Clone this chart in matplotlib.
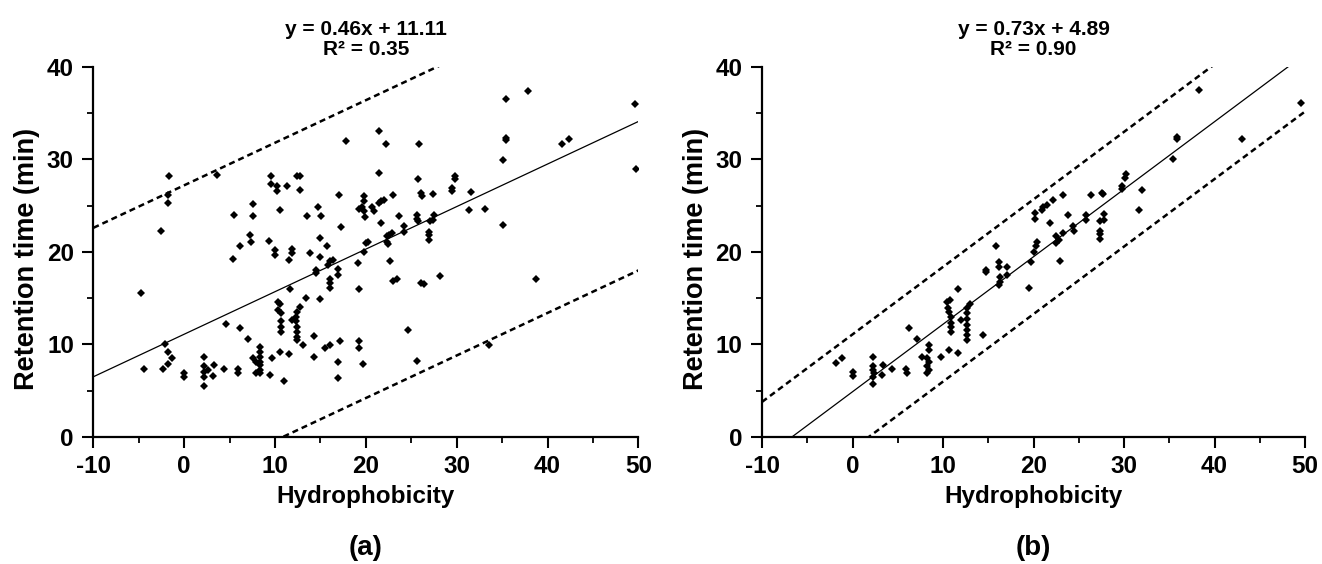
import numpy as np
import matplotlib
matplotlib.use("Agg")
from matplotlib import pyplot as plt
from matplotlib.ticker import MultipleLocator

plt.rcParams['font.family'] = ['Liberation Sans', 'DejaVu Sans']
plt.rcParams['font.weight'] = 'bold'
plt.rcParams['axes.unicode_minus'] = False

# panel (a): hydrophobicity vs retention time, all peptides
xa = [-4.8, -4.4, -2.6, -1.65, -1.8, -1.8, -2.1, -1.8, -2.3, -1.8, -1.3,
      0.0, 0.0, 2.2, 2.2, 2.2, 2.2, 2.2, 2.6, 3.3, 3.2, 3.6, 4.4, 4.6, 5.4,
      5.5, 5.9, 5.9, 6.2, 6.2, 7.0, 7.2, 7.4, 7.6, 7.6, 7.6,
      8.3, 8.3, 8.3, 8.3, 8.3, 8.3, 8.3, 7.9, 7.9,
      9.3, 9.5, 9.7, 9.6, 9.6, 10.2, 10.2, 10.0, 10.0, 10.5, 10.6,
      10.3, 10.6, 10.3, 10.7, 10.7, 10.7, 10.7, 11.0, 11.3, 11.5, 11.5,
      11.6, 11.9, 11.9, 12.4, 12.7, 12.7,
      12.7, 12.4, 12.3, 12.3, 12.4, 12.4, 12.4, 12.4, 11.9,
      13.1, 13.4, 13.5, 13.9, 14.3, 14.3, 14.5, 14.5, 14.7, 14.9, 15.0,
      15.0, 15.1, 15.5, 15.7, 15.8, 16.0, 16.0, 16.0, 16.0, 16.1, 16.4,
      16.9, 16.9, 17.0, 16.9, 16.9, 17.1, 17.3, 17.8, 19.1, 19.2, 19.2,
      19.2, 19.2,
      21.4, 22.2, 25.8, 21.4, 19.8, 19.8, 19.6, 19.8, 19.9, 20.7, 20.9,
      21.4, 21.7, 22.0, 23.0, 23.6, 21.7, 24.2, 24.2, 25.7, 25.6, 25.6,
      25.7, 26.1, 26.2, 27.4, 27.5, 27.4, 27.1, 27.0, 27.0, 27.0,
      29.5, 29.5, 29.8, 29.8, 31.6, 31.3, 33.1, 35.1, 35.4, 35.4, 35.4,
      37.9, 41.6, 42.4, 35.1, 38.7, 33.6,
      20.0, 20.2, 19.8, 22.3, 22.6, 22.9, 22.3, 22.4, 22.7, 23.0, 23.4,
      26.1, 26.4, 28.2, 24.6, 19.7, 25.6, 49.6, 49.7]
ya = [15.6, 7.3, 22.3, 28.2, 26.2, 25.3, 10.1, 9.2, 7.4, 7.9, 8.5,
      6.9, 6.5, 8.7, 7.65, 7.0, 6.5, 5.5, 7.2, 7.8, 6.6, 28.3, 7.4, 12.2, 19.2,
      24.0, 7.3, 6.9, 11.8, 20.7, 10.6, 21.8, 21.1, 25.2, 23.9, 8.5,
      9.75, 9.2, 8.7, 8.1, 7.8, 7.2, 6.9, 8.1, 6.9,
      21.2, 6.7, 8.5, 28.2, 27.4, 27.1, 26.6, 20.2, 19.7, 24.5, 9.2,
      14.6, 14.4, 13.7, 13.4, 12.5, 11.9, 11.4, 6.0, 27.1, 9.0, 19.1,
      16.0, 20.3, 19.9, 28.2, 28.2, 26.7,
      14.1, 13.5, 13.0, 12.5, 11.9, 11.4, 10.8, 10.5, 12.6,
      9.9, 15.0, 23.9, 19.9, 10.9, 8.7, 18.1, 17.7, 24.9, 14.9, 19.5,
      21.5, 23.9, 9.6, 20.6, 18.6, 19.0, 17.1, 16.6, 16.1, 9.9, 19.1,
      17.5, 18.2, 26.2, 8.1, 6.4, 10.4, 22.7, 32.0, 18.8, 16.0, 10.4,
      9.6, 24.7,
      33.1, 31.7, 31.7, 28.5, 26.0, 25.5, 24.9, 24.4, 23.8, 24.9, 24.4,
      25.3, 25.5, 25.6, 26.2, 23.9, 23.1, 22.8, 22.2, 27.9, 24.0, 23.6,
      23.3, 26.4, 26.1, 26.3, 24.0, 23.5, 23.3, 22.2, 21.8, 21.3,
      26.9, 26.6, 28.2, 27.9, 26.5, 24.5, 24.7, 29.9, 32.3, 32.1, 36.5,
      37.4, 31.7, 32.2, 22.9, 17.1, 9.9,
      21.0, 21.1, 20.0, 21.7, 21.8, 22.0, 21.1, 20.9, 19.0, 16.9, 17.1,
      16.6, 16.5, 17.4, 11.6, 7.9, 8.2, 36.0, 29.0]

# panel (b): corrected hydrophobicity
xb = [-1.8, -1.2, 0.06, 0.1, 2.3, 2.3, 2.3, 2.4, 2.3, 2.3, 3.3, 3.4, 4.4,
      5.9, 6.0, 6.2, 7.1, 7.7,
      8.45, 8.45, 8.2, 8.45, 8.2, 8.45, 8.2, 9.8, 10.7,
      10.4, 10.8, 10.5, 10.7, 10.9, 10.9, 10.9, 10.9, 11.7, 11.7, 12.0,
      13.0, 12.7, 12.6, 12.6, 12.6, 12.6, 12.6, 12.6, 14.4, 14.7, 14.7,
      15.9, 16.2, 16.2, 16.3, 16.2, 17.1, 17.1, 16.3,
      19.5, 19.7, 20.2, 20.2, 20.0, 20.3, 20.4, 20.9, 21.0, 21.5, 21.8,
      22.2, 22.5, 22.5, 22.8, 23.2, 22.9, 23.2, 23.8, 24.4, 24.5, 25.8,
      25.8, 26.4, 27.3, 27.3, 27.3, 27.3, 27.8, 27.8, 27.6, 27.7, 29.8,
      29.8, 30.1, 30.2, 31.7, 32.0, 35.4, 35.8, 35.9, 38.3, 43.0, 49.6]
yb = [8.05, 8.5, 7.0, 6.6, 8.7, 7.65, 7.2, 6.9, 6.5, 5.7, 6.7, 7.8, 7.4,
      7.4, 6.9, 11.8, 10.6, 8.6,
      9.9, 9.4, 8.5, 8.1, 7.65, 7.2, 6.9, 8.6, 9.4,
      14.6, 14.8, 13.9, 13.5, 13.0, 12.3, 11.9, 11.4, 16.0, 9.1, 12.6,
      14.4, 13.9, 13.4, 12.8, 12.1, 11.6, 11.0, 10.5, 11.0, 18.1, 17.8,
      20.6, 18.9, 18.4, 17.3, 16.4, 18.4, 17.5, 16.8,
      16.1, 18.9, 24.2, 23.6, 20.0, 20.6, 21.1, 24.5, 24.9, 25.1, 23.1,
      25.6, 21.7, 21.0, 21.3, 22.0, 19.0, 26.2, 24.0, 22.8, 22.3, 24.0,
      23.5, 26.2, 23.3, 22.3, 21.9, 21.4, 23.5, 24.1, 26.4, 26.3, 26.8,
      27.1, 28.0, 28.4, 24.5, 26.7, 30.0, 32.4, 32.2, 37.5, 32.2, 36.1]

# slope, intercept, R^2, half-width of the prediction band
fits = [(0.46, 11.11, 0.35, 16.1), (0.73, 4.89, 0.90, 6.2)]
labels = ['(a)', '(b)']

fig = plt.figure(figsize=(13.22, 5.64), dpi=100)
ax1 = fig.add_axes([0.0706, 0.2252, 0.4123, 0.656])
ax2 = fig.add_axes([0.5764, 0.2252, 0.4108, 0.656])

for ax, xs, ys, (m, c, r2, band), lab in zip([ax1, ax2], [xa, xb], [ya, yb], fits, labels):
    xx = np.linspace(-10, 50, 200)
    ax.plot(xx, m * xx + c, color='black', lw=0.9)
    ax.plot(xx, m * xx + c + band, color='black', lw=1.8, dashes=(2.4, 1.6))
    ax.plot(xx, m * xx + c - band, color='black', lw=1.8, dashes=(2.4, 1.6))
    ax.plot(xs, ys, 'D', color='black', markersize=4.0, markeredgewidth=0)

    ax.set_xlim(-10, 50)
    ax.set_ylim(0, 40)
    ax.xaxis.set_major_locator(MultipleLocator(10))
    ax.xaxis.set_minor_locator(MultipleLocator(5))
    ax.yaxis.set_major_locator(MultipleLocator(10))
    ax.yaxis.set_minor_locator(MultipleLocator(5))
    for s in ['top', 'right']:
        ax.spines[s].set_visible(False)
    for s in ['left', 'bottom']:
        ax.spines[s].set_linewidth(1.6)
    ax.tick_params(which='major', direction='out', length=8, width=1.5, labelsize=17.5)
    ax.tick_params(which='minor', direction='out', length=4.5, width=1.3)
    ax.tick_params(axis='x', which='major', pad=5)
    ax.tick_params(axis='y', which='major', pad=6)
    for t in ax.get_xticklabels() + ax.get_yticklabels():
        t.set_fontweight('bold')

    ax.set_xlabel('Hydrophobicity', fontsize=17.5, fontweight='bold', labelpad=5)
    ax.set_ylabel('Retention time (min)', fontsize=19.5, fontweight='bold', labelpad=5)
    ax.yaxis.label.set_y(0.48)
    ax.set_title('y = %.2fx + %.2f\nR² = %.2f' % (m, c, r2), fontsize=15,
                 fontweight='bold', pad=9, linespacing=1.05)

    pos = ax.get_position()
    fig.text(pos.x0 + pos.width / 2, 0.028, lab, ha='center', va='center',
             fontsize=20, fontweight='bold')

fig.savefig('out.png', dpi=100)
